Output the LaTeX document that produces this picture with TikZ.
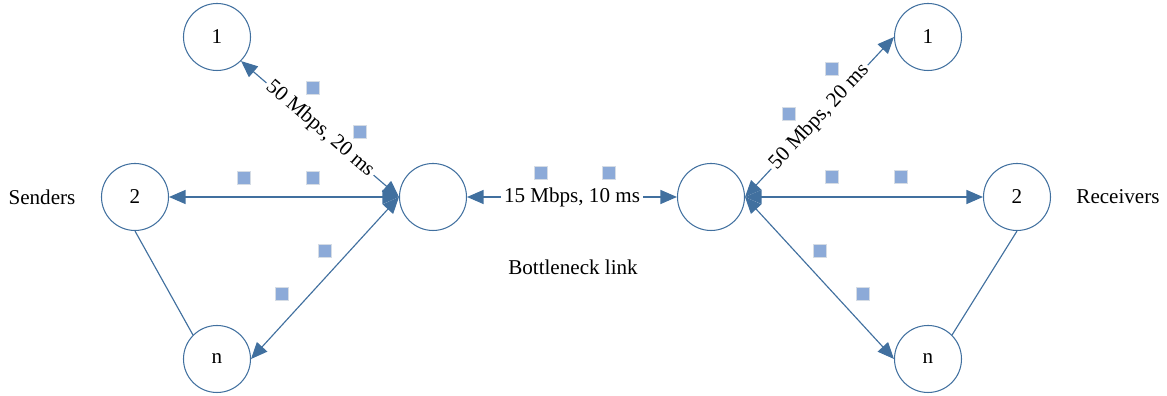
\documentclass[tikz,border=0pt]{standalone}
\usepackage{fontspec}
\setmainfont{Liberation Serif}
\usetikzlibrary{arrows.meta}
\definecolor{linkblue}{HTML}{41709F}
\definecolor{pktfill}{HTML}{8CAAD8}
\definecolor{pktedge}{HTML}{D5DCE5}

\begin{document}
\begin{tikzpicture}[
		host/.style={circle, draw=linkblue, line width=0.6pt, minimum size=1.34cm, inner sep=0pt},
		link/.style={draw=linkblue, line width=0.65pt},
		duplex/.style={link, {Triangle[length=0.33cm,width=0.28cm]}-{Triangle[length=0.33cm,width=0.28cm]}},
		rate/.style={fill=white, inner sep=1.5pt},
		packet/.style={fill=pktfill, draw=pktedge, line width=0.8pt, minimum size=0.26cm, inner sep=0pt},
		font=\fontsize{12}{14}\selectfont
	]
		\useasboundingbox (0,0) rectangle (23.34,7.92);
		
		% senders
		\node[host] (l1) at (4.34, 7.18) {1};
		\node[host] (l2) at (2.70, 3.98) {2};
		\node[host] (ln) at (4.34, 0.74) {n};
		\node[host] (lr) at (8.66, 3.98) {};
		\node (senders) at (0.84, 3.98) {Senders};
		
		% receivers
		\node[host] (rr) at (14.22, 3.98) {};
		\node[host] (r1) at (18.56, 7.18) {1};
		\node[host] (r2) at (20.34, 3.98) {2};
		\node[host] (rn) at (18.56, 0.74) {n};
		\node (receivers) at (22.36, 3.98) {Receivers};
		
		\node (bottleneck) at (11.46, 2.58) {Bottleneck link};
		
		% links
		\draw[duplex] (lr.west) -- node[rate, sloped] {50 Mbps, 20 ms} (l1.south east);
		\draw[duplex] (lr.west) -- (l2.east);
		\draw[duplex] (lr.west) -- (ln.east);
		\draw[link] (l2.south) -- (ln.north west);
		
		\draw[duplex] (lr.east) -- node[rate] {15 Mbps, 10 ms} (rr.west);
		
		\draw[duplex] (rr.east) -- node[rate, sloped] {50 Mbps, 20 ms} (r1.west);
		\draw[duplex] (rr.east) -- (r2.west);
		\draw[duplex] (rr.east) -- (rn.west);
		\draw[link] (r2.south) -- (rn.north east);
		
		% packets
		\foreach \x/\y [count=\i] in {6.26/6.16, 7.20/5.28, 4.88/4.36, 6.26/4.36, 6.50/2.90, 5.64/2.04,
			10.82/4.46, 12.18/4.46,
			16.64/6.54, 15.78/5.64, 16.64/4.38, 18.02/4.38, 16.40/2.90, 17.26/2.04}
			\node[packet] (p\i) at (\x, \y) {};
	\end{tikzpicture}
\end{document}
